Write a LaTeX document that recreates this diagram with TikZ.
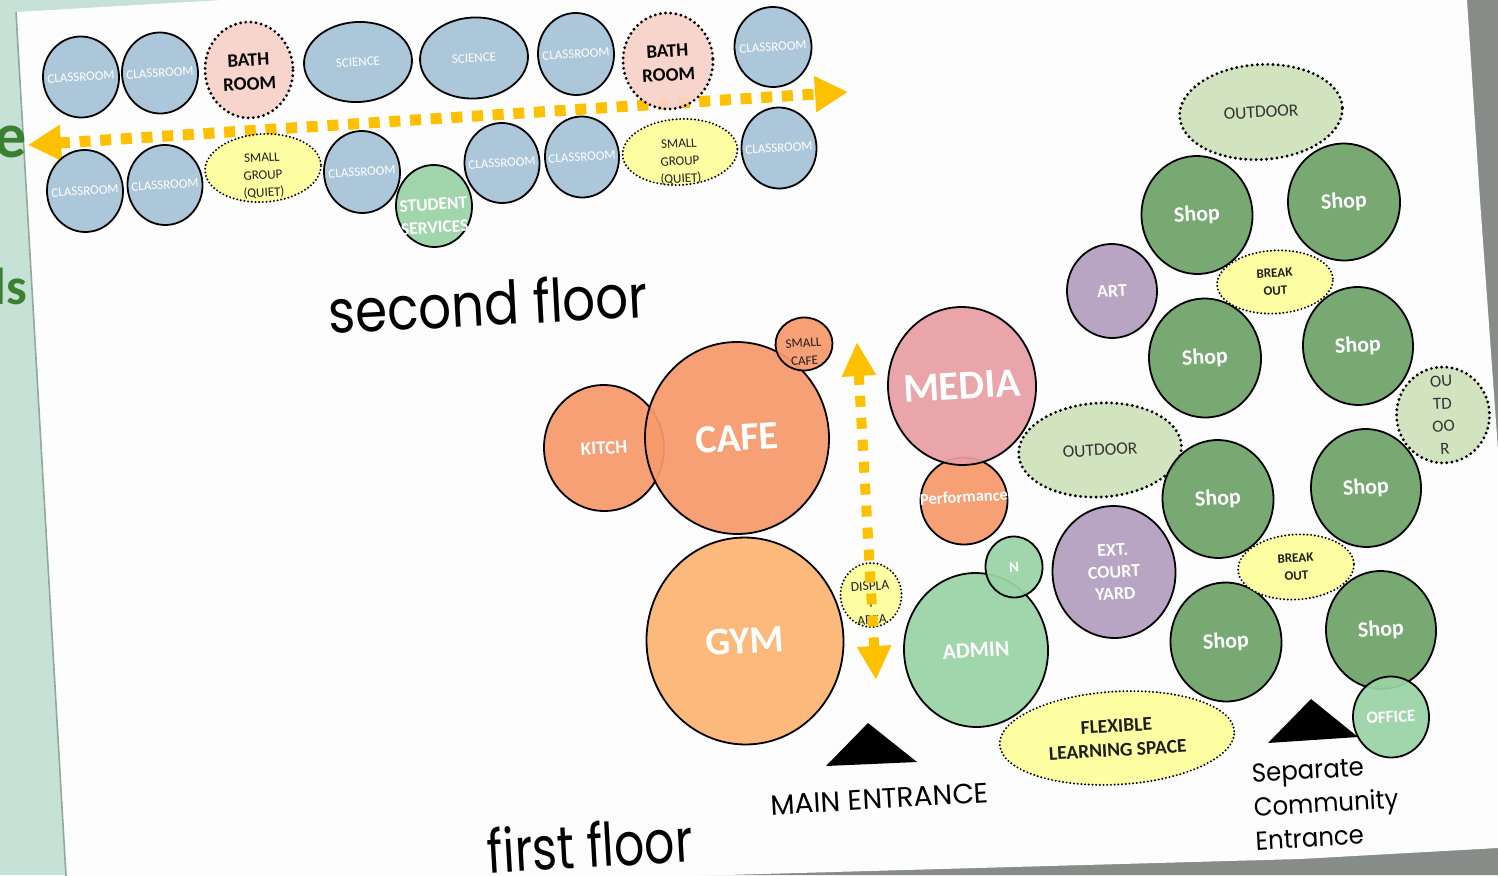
\documentclass[tikz,border=0pt]{standalone}
\usepackage{fontspec}
\setmainfont{Carlito}
\newfontfamily\geofont{Poppins}
\usetikzlibrary{shapes.geometric,arrows.meta}
\definecolor{bggreen}{HTML}{C6E2D7}
\definecolor{bggray}{HTML}{878C89}
\definecolor{slidew}{HTML}{FDFDFD}
\definecolor{clsblue}{HTML}{A5C3D7}
\definecolor{bathpink}{HTML}{F8D3C9}
\definecolor{lemon}{HTML}{FFFF9C}
\definecolor{mint}{HTML}{9BD4A6}
\definecolor{coral}{HTML}{F79A6C}
\definecolor{apricot}{HTML}{FBB472}
\definecolor{rose}{HTML}{E89FA3}
\definecolor{lilac}{HTML}{B39EBF}
\definecolor{shopg}{HTML}{6EA369}
\definecolor{sage}{HTML}{CFE2BB}
\definecolor{amber}{HTML}{FFC000}
\definecolor{leaf}{HTML}{3B8030}
\definecolor{inkdk}{HTML}{1E1E1E}
\definecolor{inkgr}{HTML}{333333}
\definecolor{edgeshade}{HTML}{8FAA9C}
\newcommand\fsz[2]{\fontsize{#1}{#2}\selectfont}
\newcommand\rmnode[6][0]{\node[#2] (#3) at (#4) {}; \node[#5] (#3t) at ([yshift=-#1pt]#3.center) {#6};}
\begin{document}
\begin{tikzpicture}[x=1pt,y=-1pt,
  shp/.style 2 args={ellipse, inner sep=0pt, minimum width=#1, minimum height=#2, rotate=3.3, fill opacity=0.93},
  sb/.style={draw=black, line width=1.8pt},
  db/.style={draw=black, line width=3.2pt, line cap=round, dash pattern=on 0pt off 5.2pt},
  ds/.style={draw=black, line width=2.2pt, line cap=round, dash pattern=on 0pt off 3.7pt},
  tx/.style={inner sep=0pt, align=center, rotate=3.3},
  yarrtop/.style={draw=amber, line width=11pt, dash pattern=on 11pt off 9.7pt,
     {Triangle[length=33pt,width=34pt]}-{Triangle[length=33pt,width=34pt]}},
  yarrv/.style={draw=amber, line width=10pt, dash pattern=on 11pt off 11pt,
     {Triangle[length=34pt,width=32pt]}-{Triangle[length=34pt,width=32pt]}}
]
\useasboundingbox (0,0) rectangle (1498,875);
% backdrop
\fill[bggreen] (0,0) rectangle (1498,875);
\fill[bggray] (1440,0) -- (1498,0) -- (1498,875) -- (600,875) -- cycle;
% slide
\fill[slidew] (16,12) -- (223,0) -- (1467,0) -- (1480,200) -- (1498,450) -- (1498,848)
   -- (1300,859) -- (690,876) -- (66,876) -- (50,600) -- cycle;
\draw[edgeshade, line width=1.6pt] (16,12) -- (50,600) -- (66,876);
\node[anchor=base east, inner sep=0pt, text=leaf, font=\bfseries\fsz{64}{64}] (ge) at (27,157) {e};
\node[anchor=base east, inner sep=0pt, text=leaf, font=\bfseries\fsz{52}{52}] (gls) at (27,304) {ls};
% ---------- second floor ----------
\coordinate (a2l) at (28,145);
\coordinate (a2r) at (848,92);
\draw[yarrtop] (a2l) -- (a2r);
\rmnode{shp={76}{81},fill=clsblue,sb}{c1}{81,77}{tx,white,font=\fsz{13}{15}}{CLASSROOM}
\rmnode{shp={76}{81},fill=clsblue,sb}{c2}{160,73}{tx,white,font=\fsz{13}{15}}{CLASSROOM}
\rmnode[2]{shp={88}{96},fill=bathpink,db}{b1}{249,70}{tx,black,font=\bfseries\fsz{19}{24}}{BATH\\ROOM}
\rmnode{shp={108}{80},fill=clsblue,sb}{s1}{358,62}{tx,white,font=\fsz{13}{15}}{SCIENCE}
\rmnode{shp={108}{81},fill=clsblue,sb}{s2}{474,58}{tx,white,font=\fsz{13}{15}}{SCIENCE}
\rmnode{shp={76}{82},fill=clsblue,sb}{c3}{576,54}{tx,white,font=\fsz{13}{15}}{CLASSROOM}
\rmnode[2]{shp={90}{96},fill=bathpink,db}{b2}{668,61}{tx,black,font=\bfseries\fsz{19}{24}}{BATH\\ROOM}
\rmnode{shp={77}{80},fill=clsblue,sb}{c4}{773,47}{tx,white,font=\fsz{13}{15}}{CLASSROOM}
\rmnode{shp={76}{82},fill=clsblue,sb}{c5}{85,191}{tx,white,font=\fsz{13}{15}}{CLASSROOM}
\rmnode{shp={75}{80},fill=clsblue,sb}{c6}{165,185}{tx,white,font=\fsz{13}{15}}{CLASSROOM}
\rmnode[8]{shp={116}{68},fill=lemon,ds}{g1}{263,168}{tx,inkdk,font=\fsz{13}{17.5}}{SMALL\\GROUP\\(QUIET)}
\rmnode{shp={76}{82},fill=clsblue,sb}{c7}{362,172}{tx,white,font=\fsz{13}{15}}{CLASSROOM}
\rmnode[10]{shp={76}{82},fill=mint,sb}{ss}{434,206}{tx,white,font=\bfseries\fsz{17.5}{23}}{STUDENT\\SERVICES}
\rmnode{shp={75}{80},fill=clsblue,sb}{c8}{502,163}{tx,white,font=\fsz{13}{15}}{CLASSROOM}
\rmnode{shp={74}{81},fill=clsblue,sb}{c9}{582,157}{tx,white,font=\fsz{13}{15}}{CLASSROOM}
\rmnode[10]{shp={115}{66},fill=lemon,ds}{g2}{680,152}{tx,inkdk,font=\fsz{13}{17.5}}{SMALL\\GROUP\\(QUIET)}
\rmnode{shp={75}{81},fill=clsblue,sb}{c10}{779,148}{tx,white,font=\fsz{13}{15}}{CLASSROOM}
\node[tx, rotate=-0.3, font=\geofont\fsz{60}{60}, xscale=0.86] (sfl) at (488,303) {second floor};
% ---------- first floor ----------
\rmnode{shp={120}{126},fill=coral,sb}{kit}{604,448}{tx,white,font=\bfseries\fsz{19}{22}}{KITCH}
\rmnode{shp={184}{192},fill=coral,sb}{cafe}{737,438}{tx,white,font=\bfseries\fsz{40}{44}}{CAFE}
\rmnode[8]{shp={57}{53},fill=coral,sb}{scafe}{804,344}{tx,inkdk,font=\fsz{13}{18}}{SMALL\\CAFE}
\rmnode{shp={197}{207},fill=apricot,sb}{gym}{745,641}{tx,white,font=\bfseries\fsz{39}{44}}{GYM}
\rmnode[8]{shp={61}{64},fill=lemon,ds}{disp}{871,595}{tx,inkdk,font=\fsz{13.5}{17}}{DISPLA\\Y\\AREA}
\coordinate (a1t) at (857,342);
\coordinate (a1b) at (876,680);
\draw[yarrv] (a1t) -- (a1b);
\rmnode[-4]{shp={87}{87},fill=coral,sb}{perf}{964,501}{tx,white,font=\bfseries\fsz{16.5}{18}}{Performance}
\rmnode{shp={148}{158},fill=rose,sb}{media}{962,386}{tx,white,font=\bfseries\fsz{41}{44}}{MEDIA}
\rmnode{shp={163}{94},fill=sage,db}{outm}{1100,450}{tx,inkgr,font=\fsz{17.5}{20}}{OUTDOOR}
\rmnode{shp={144}{154},fill=mint,sb}{admin}{976,650}{tx,white,font=\bfseries\fsz{22}{24}}{ADMIN}
\rmnode{shp={57}{61},fill=mint,sb}{nn}{1014,567}{tx,white,font=\bfseries\fsz{15}{17}}{N}
\rmnode{shp={123}{132},fill=lilac,sb}{ext}{1114,572}{tx,white,font=\bfseries\fsz{18}{22}}{EXT.\\COURT\\YARD}
\rmnode{shp={90}{94},fill=lilac,sb}{art}{1112,291}{tx,white,font=\bfseries\fsz{18}{20}}{ART}
\rmnode{shp={235}{93},fill=lemon,ds}{flex}{1117,738}{tx,inkdk,font=\bfseries\fsz{19.5}{24}}{FLEXIBLE\\LEARNING SPACE}
\rmnode{shp={163}{95},fill=sage,db}{outt}{1261,112}{tx,inkgr,font=\fsz{17.5}{20}}{OUTDOOR}
\rmnode{shp={111}{118},fill=shopg,sb}{sh1}{1197,215}{tx,white,font=\bfseries\fsz{22}{24}}{Shop}
\rmnode{shp={112}{117},fill=shopg,sb}{sh2}{1344,202}{tx,white,font=\bfseries\fsz{22}{24}}{Shop}
\rmnode{shp={112}{119},fill=shopg,sb}{sh3}{1205,358}{tx,white,font=\bfseries\fsz{22}{24}}{Shop}
\rmnode{shp={110}{118},fill=shopg,sb}{sh4}{1358,346}{tx,white,font=\bfseries\fsz{22}{24}}{Shop}
\rmnode{shp={111}{118},fill=shopg,sb}{sh5}{1218,499}{tx,white,font=\bfseries\fsz{22}{24}}{Shop}
\rmnode{shp={110}{118},fill=shopg,sb}{sh6}{1366,488}{tx,white,font=\bfseries\fsz{22}{24}}{Shop}
\rmnode{shp={111}{119},fill=shopg,sb}{sh7}{1226,642}{tx,white,font=\bfseries\fsz{22}{24}}{Shop}
\rmnode{shp={110}{118},fill=shopg,sb}{sh8}{1381,630}{tx,white,font=\bfseries\fsz{22}{24}}{Shop}
\rmnode{shp={116}{63},fill=lemon,ds}{bo1}{1275,282}{tx,inkdk,font=\bfseries\fsz{13}{18}}{BREAK\\OUT}
\rmnode{shp={116}{65},fill=lemon,ds}{bo2}{1296,567}{tx,inkdk,font=\bfseries\fsz{13}{18}}{BREAK\\OUT}
\rmnode{shp={93}{96},fill=sage,db}{outr}{1443,415}{tx,inkgr,font=\fsz{17}{22.5}}{OU\\TD\\OO\\R}
\rmnode{shp={76}{81},fill=mint,sb}{office}{1391,717}{tx,white,font=\bfseries\fsz{17}{19}}{OFFICE}
% entrances
\fill[black] (868,723) -- (917,762) -- (826,766) -- cycle;
\fill[black] (1311,699) -- (1358,737) -- (1268,743) -- cycle;
\node[tx, font=\geofont\fsz{28}{28}] (mainent) at (880,799) {MAIN ENTRANCE};
\node[tx, font=\geofont\fsz{26}{34}, xscale=0.94, align=left] (sepent) at (1326,803) {Separate\\Community\\Entrance};
\node[tx, font=\geofont\fsz{60}{60}, xscale=0.79] (ffl) at (590,845) {first floor};
\end{tikzpicture}
\end{document}
